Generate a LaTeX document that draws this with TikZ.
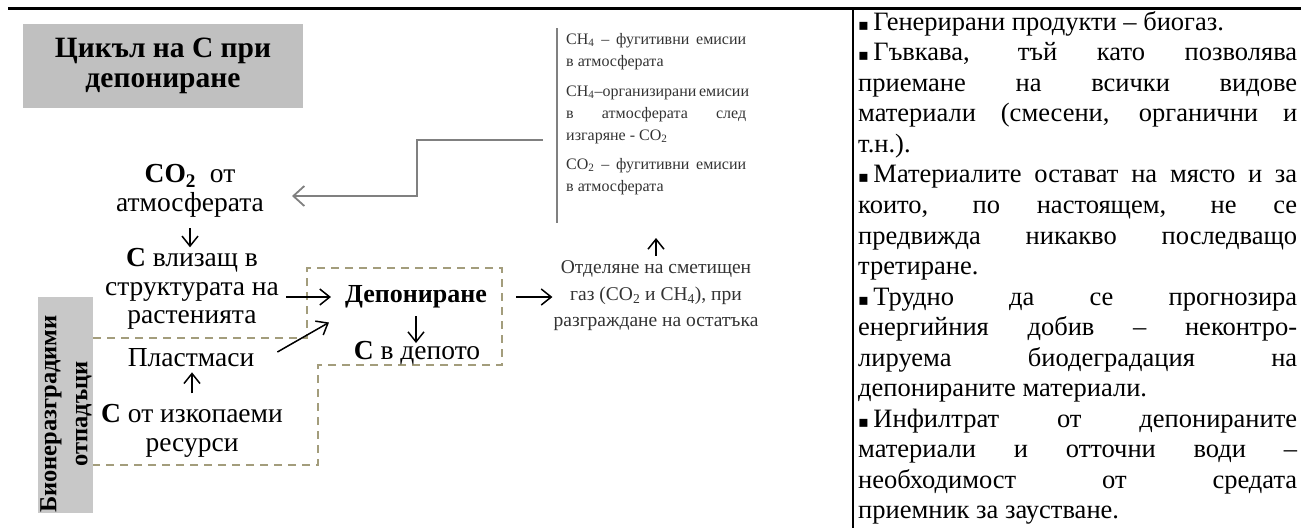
\documentclass[tikz,border=0pt]{standalone}
\usepackage{fontspec}
\setmainfont{Liberation Serif}
\newfontfamily\dejavu{DejaVu Sans}
\usetikzlibrary{arrows.meta}
\definecolor{titlegray}{HTML}{C0C0C0}
\definecolor{bargray}{HTML}{C8C8C8}
\definecolor{dashcol}{HTML}{A39D7C}
\definecolor{linegray}{HTML}{808080}
\definecolor{softblack}{HTML}{333333}
\newlength\rw \setlength\rw{439pt}
\newlength\cw \setlength\cw{180pt}
\newcommand\bul{{\dejavu\fontsize{16}{16}\selectfont ▪}\,}
\newcommand\jr[1]{\makebox[\rw][s]{#1}}
\newcommand\lr[1]{\makebox[\rw][l]{#1}}
\newcommand\jc[1]{\makebox[\cw][s]{#1}}
\newcommand\lc[1]{\makebox[\cw][l]{#1}}
\hbadness=10000 \hfuzz=50pt
\begin{document}
\begin{tikzpicture}[x=1pt,y=-1pt,
  lbl/.style={inner sep=1pt, align=center, font=\fontsize{27.5}{28.5}\selectfont},
  arr/.style={line width=1.5pt, -{Straight Barb[length=10pt,width=16pt]}},
  grayarr/.style={line width=1.8pt, draw=linegray, -{Straight Barb[length=11pt,width=20pt]}},
  dashbox/.style={draw=dashcol, line width=2pt, dash pattern=on 8pt off 6pt},
  rule/.style={line width=2.5pt}]
\useasboundingbox (0,0) rectangle (1301,528);
% frame lines
\draw[line width=3pt] (8,8) -- (1301,8);
\draw[rule] (853,8) -- (853,528);
% title
\node[fill=titlegray, minimum width=280pt, minimum height=84pt, align=center,
  font=\bfseries\fontsize{29.5}{30}\selectfont] (title) at (163,66) {Цикъл на С при\\депониране};
% grey bar
\node[fill=bargray, minimum width=55pt, minimum height=216pt, inner sep=0] (bar) at (65.5,405) {};
\node[rotate=90, align=center, inner sep=0, font=\bfseries\fontsize{24.5}{31}\selectfont] (barlbl) at (66,414) {Бионеразградими\\отпадъци};
% dashed outline
\draw[dashbox] (93,338) -- (307,338) -- (307,268) -- (502,268) -- (502,365) -- (318,365) -- (318,465) -- (93,465);
% nodes
\node[lbl] (co2) at (190,191) {\textbf{CO\textsubscript{2}}\ \ от\\атмосферата};
\node[lbl] (plant) at (192,289) {\textbf{С} влизащ в\\структурата на\\растенията};
\node[lbl] (plast) at (191,358) {Пластмаси};
\node[lbl] (fossil) at (192,431) {\textbf{С} от изкопаеми\\ресурси};
\node[lbl, font=\bfseries\fontsize{26}{28.5}\selectfont] (dep) at (416,297) {Депониране};
\node[lbl] (indep) at (417,353) {\textbf{С} в депото};
\node[lbl, text=softblack, font=\fontsize{19.5}{26.5}\selectfont] (release) at (656,296)
  {Отделяне на сметищен\\газ (CO\textsubscript{2} и CH\textsubscript{4}), при\\разграждане на остатъка};
\node[anchor=north west, inner sep=0, align=left, text=softblack, font=\fontsize{16}{22}\selectfont] (ch4) at (566,33)
  {\jc{CH\textsubscript{4} – фугитивни емисии}\\
   \lc{в атмосферата}\\[8pt]
   \jc{CH\textsubscript{4}–организирани емисии}\\
   \jc{в атмосферата след}\\
   \lc{изгаряне - CO\textsubscript{2}}\\[7pt]
   \jc{CO\textsubscript{2} – фугитивни емисии}\\
   \lc{в атмосферата}};
\draw[line width=1.8pt, linegray] (557,28) -- (557,223);
% right column
\node[anchor=north west, inner sep=0, align=left, font=\fontsize{26.5}{30.55}\selectfont] (notes) at (858,11)
  {\lr{\bul Генерирани продукти – биогаз.}\\
   \jr{\bul Гъвкава, тъй като позволява}\\
   \jr{приемане на всички видове}\\
   \jr{материали (смесени, органични и}\\
   \lr{т.н.).}\\
   \jr{\bul Материалите остават на място и за}\\
   \jr{които, по настоящем, не се}\\
   \jr{предвижда никакво последващо}\\
   \lr{третиране.}\\
   \jr{\bul Трудно да се прогнозира}\\
   \jr{енергийния добив – неконтро-}\\
   \jr{лируема биодеградация на}\\
   \lr{депонираните материали.}\\
   \jr{\bul Инфилтрат от депонираните}\\
   \jr{материали и отточни води –}\\
   \jr{необходимост от средата}\\
   \lr{приемник за заустване.}};
% connectors
\draw[arr, shorten <=10pt] (co2.south) -- (co2.south |- plant.north);
\draw[arr, shorten <=6pt, shorten >=13pt] (dep.west -| plant.east) -- (dep.west);
\draw[arr] ([xshift=22pt,yshift=6pt]plast.east) -- ([xshift=-15pt,yshift=-13pt]dep.south west);
\draw[arr, shorten <=10pt, shorten >=4pt] (fossil.north) -- (fossil.north |- plast.south);
\draw[arr, shorten <=7pt, shorten >=-3pt] (dep.south) -- (dep.south |- indep.north);
\draw[arr, shorten <=28pt] (dep.east) -- (release.west |- dep.east);
\coordinate (upend) at (656,238);
\draw[arr, shorten <=4pt] (release.north) -- (upend);
\coordinate (fromch4) at (543,140);
\coordinate (bend) at (417,196);
\coordinate (toco2) at (292,196);
\draw[grayarr] (fromch4) -| (bend) -- (toco2);
\end{tikzpicture}
\end{document}
